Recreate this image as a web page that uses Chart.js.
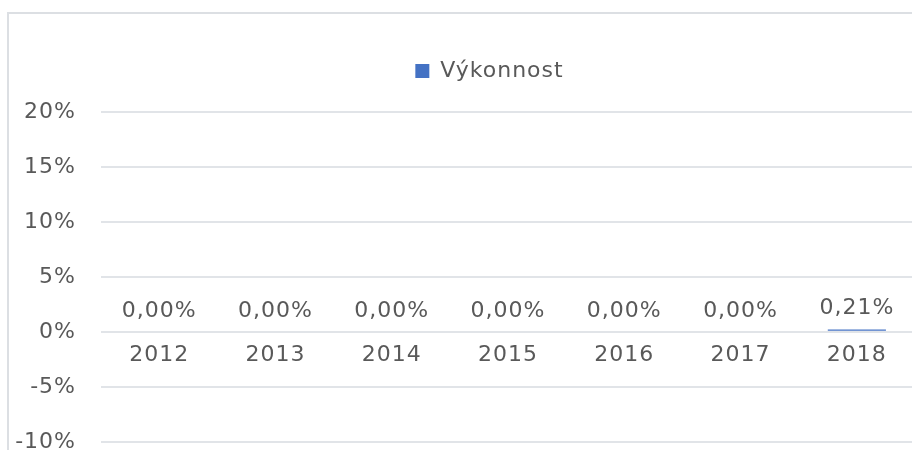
<!DOCTYPE html>
<html>
<head>
<meta charset="utf-8">
<script src="https://cdn.jsdelivr.net/npm/chart.js@4/dist/chart.umd.min.js"></script>
<style>
  html, body { margin: 0; padding: 0; width: 912px; height: 450px; overflow: hidden; background: #fff; }
  #frame { position: absolute; left: 7px; top: 12px; width: 1000px; height: 1000px;
           border-left: 2px solid #dcdfe3; border-top: 2px solid #dcdfe3; box-sizing: border-box; }
  #wrap { position: absolute; left: 0; top: 0; width: 920px; height: 480px; }
</style>
</head>
<body>
<div id="frame"></div>
<div id="wrap"><canvas id="c"></canvas></div>
<script>
const categories = ['2012', '2013', '2014', '2015', '2016', '2017', '2018'];
const seriesName = 'Výkonnost';
const values = [0, 0, 0, 0, 0, 0, 0.21];
const yTicks = [-10, -5, 0, 5, 10, 15, 20];

const TEXT = '#595959';
const FONT = { family: 'DejaVu Sans', size: 22 };
const SPACING = '1px';

function fmtPct(v) {
  return v.toFixed(2).replace('.', ',') + '%';
}

const tweaks = {
  id: 'tweaks',
  beforeLayout(chart) {
    chart.ctx.letterSpacing = SPACING;
    const lg = chart.legend;
    if (lg && !lg._patched) {
      const fit = lg.fit.bind(lg);
      lg.fit = function () {
        fit();
        this.height += 20;
      };
      const draw = lg.draw.bind(lg);
      lg.draw = function () {
        const ctx = this.ctx;
        ctx.save();
        ctx.translate(32, 0);
        draw();
        ctx.restore();
      };
      lg._patched = true;
    }
  },
  beforeDraw(chart) {
    chart.ctx.letterSpacing = SPACING;
  },
  afterDatasetsDraw(chart) {
    const ctx = chart.ctx;
    const meta = chart.getDatasetMeta(0);
    ctx.save();
    ctx.letterSpacing = SPACING;
    ctx.font = FONT.size + 'px ' + FONT.family;
    ctx.fillStyle = TEXT;
    ctx.textAlign = 'center';
    ctx.textBaseline = 'bottom';
    meta.data.forEach((bar, i) => {
      const top = Math.min(bar.y, bar.base);
      ctx.fillText(fmtPct(values[i]), bar.x, top - 10);
    });
    ctx.restore();
  }
};

new Chart(document.getElementById('c'), {
  type: 'bar',
  data: {
    labels: categories,
    datasets: [{
      label: seriesName,
      data: values,
      backgroundColor: '#4472C4',
      borderWidth: 0,
      barPercentage: 0.5,
      categoryPercentage: 1.0
    }]
  },
  options: {
    responsive: true,
    maintainAspectRatio: false,
    animation: false,
    events: [],
    layout: { padding: { top: 29, right: 5, bottom: 38, left: 0 } },
    plugins: {
      legend: {
        display: true,
        position: 'top',
        labels: {
          boxWidth: 14, boxHeight: 14, padding: 31,
          color: TEXT, font: FONT
        }
      },
      tooltip: { enabled: false }
    },
    scales: {
      x: {
        position: { y: 0 },
        grid: { display: false },
        border: { display: false },
        ticks: { color: TEXT, font: FONT, padding: 2, maxRotation: 0 }
      },
      y: {
        min: yTicks[0],
        max: yTicks[yTicks.length - 1],
        afterBuildTicks: (s) => { s.ticks = yTicks.map(v => ({ value: v })); },
        afterFit: (s) => { s.width = 101; },
        grid: { color: '#e1e4e8', lineWidth: 2, drawTicks: false },
        border: { display: false },
        ticks: {
          color: TEXT, font: FONT, padding: 25,
          callback: (v) => v + '%'
        }
      }
    }
  },
  plugins: [tweaks]
});
</script>
</body>
</html>
